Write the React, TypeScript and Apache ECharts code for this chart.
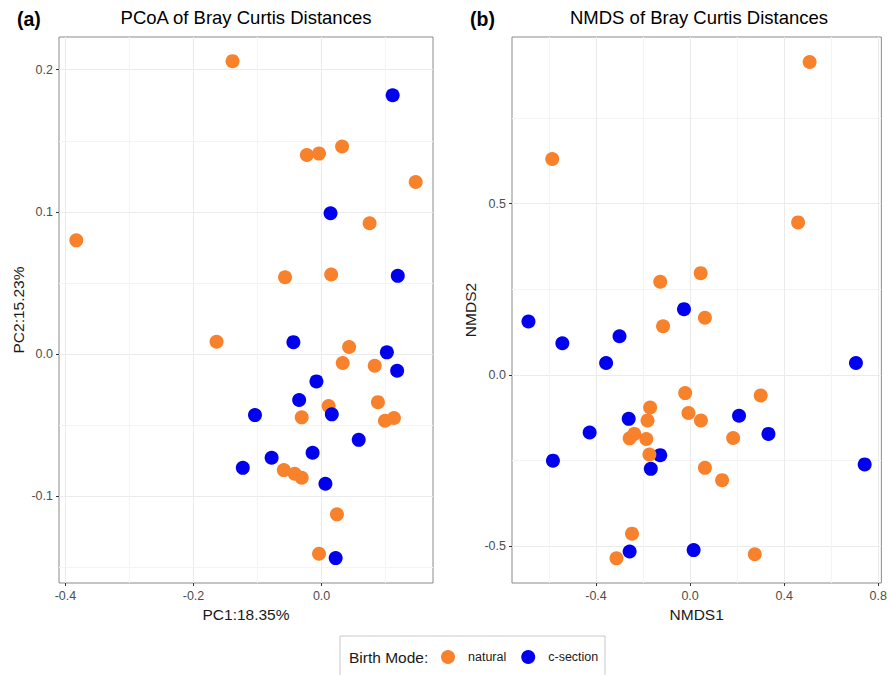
import React, { useEffect, useRef } from "react";
import * as echarts from "echarts";

// PCoA (left panel) — [PC1, PC2]
const pcoaNatural: number[][] = [
  [-0.139, 0.206], [-0.023, 0.14], [-0.004, 0.141], [0.032, 0.146], [0.147, 0.121],
  [0.075, 0.092], [-0.383, 0.08], [-0.057, 0.054], [0.015, 0.056], [-0.164, 0.0087],
  [0.043, 0.005], [0.033, -0.0063], [0.083, -0.0082], [0.011, -0.0366], [0.088, -0.0338],
  [-0.031, -0.0445], [0.099, -0.0469], [0.113, -0.045], [-0.059, -0.0816], [-0.042, -0.0842],
  [-0.031, -0.087], [0.024, -0.1127], [-0.004, -0.1404],
];
const pcoaCsection: number[][] = [
  [0.111, 0.182], [0.014, 0.099], [0.119, 0.055], [-0.044, 0.0084], [0.102, 0.0012],
  [0.118, -0.0117], [-0.008, -0.0192], [-0.035, -0.0323], [-0.104, -0.0429], [0.016, -0.0424],
  [0.058, -0.0603], [-0.014, -0.0694], [-0.078, -0.0729], [-0.123, -0.08], [0.006, -0.0912],
  [0.022, -0.1435],
];

// NMDS (right panel) — [NMDS1, NMDS2]
const nmdsNatural: number[][] = [
  [0.508, 0.913], [-0.586, 0.63], [0.459, 0.445], [-0.127, 0.272], [0.045, 0.297],
  [0.063, 0.167], [-0.115, 0.142], [-0.021, -0.053], [0.3, -0.06], [-0.17, -0.095],
  [-0.007, -0.111], [-0.181, -0.133], [0.046, -0.133], [-0.237, -0.172], [-0.257, -0.185],
  [-0.186, -0.187], [0.183, -0.184], [-0.173, -0.232], [0.063, -0.271], [0.136, -0.307],
  [-0.247, -0.463], [-0.313, -0.535], [0.275, -0.523],
];
const nmdsCsection: number[][] = [
  [-0.687, 0.156], [-0.026, 0.192], [-0.543, 0.0925], [-0.3, 0.113], [-0.357, 0.035],
  [0.705, 0.035], [-0.261, -0.128], [0.208, -0.119], [-0.427, -0.168], [0.333, -0.172],
  [-0.127, -0.234], [-0.583, -0.25], [0.742, -0.261], [-0.167, -0.274], [-0.257, -0.515],
  [0.015, -0.511],
];

const groups = ["natural", "c-section"];
const pcoaXMajor = [-0.4, -0.2, 0.0];
const pcoaXMinor = [-0.3, -0.1, 0.1];
const pcoaYMajor = [-0.1, 0.0, 0.1, 0.2];
const pcoaYMinor = [-0.15, -0.05, 0.05, 0.15];
const nmdsXMajor = [-0.4, 0.0, 0.4, 0.8];
const nmdsXMinor = [-0.6, -0.2, 0.2, 0.6];
const nmdsYMajor = [-0.5, 0.0, 0.5];
const nmdsYMinor = [-0.25, 0.25, 0.75];

const FONT = "Liberation Sans, Arial, Helvetica, sans-serif";
const ORANGE = "#f8812b";
const BLUE = "#0000ee";

export default function App() {
  const ref = useRef<HTMLDivElement>(null);
  useEffect(() => {
    if (!ref.current) return;
    const chart = echarts.init(ref.current, null, { renderer: "svg" });

    const majorAxis = (
      gridIndex: number,
      min: number,
      max: number,
      ticks: number[],
      name: string,
      nameGap: number,
      isY: boolean
    ) => ({
      type: "value",
      gridIndex,
      min,
      max,
      position: isY ? "left" : "bottom",
      name,
      nameLocation: "middle",
      nameGap,
      nameTextStyle: { fontFamily: FONT, fontSize: 15.5, color: "#1a1a1a" },
      axisLine: { show: false, onZero: false },
      axisTick: {
        show: true,
        length: 3,
        customValues: ticks,
        lineStyle: { color: "#333333", width: 1 },
      },
      axisLabel: {
        show: true,
        customValues: ticks,
        margin: 6,
        fontFamily: FONT,
        fontSize: 12.5,
        color: "#4d4d4d",
        formatter: (v: number) => v.toFixed(1),
      },
      splitLine: { show: true, lineStyle: { color: "#ebebeb", width: 1 } },
    });

    const minorAxis = (gridIndex: number, min: number, max: number, ticks: number[], isY: boolean) => ({
      type: "value",
      gridIndex,
      min,
      max,
      position: isY ? "left" : "bottom",
      axisLine: { show: false, onZero: false },
      axisTick: { show: false, customValues: ticks },
      axisLabel: { show: false, customValues: ticks },
      splitLine: { show: true, lineStyle: { color: "#f4f4f4", width: 1 } },
    });

    const scatter = (name: string, data: number[][], axisIndex: number, color: string) => ({
      type: "scatter",
      name,
      data,
      xAxisIndex: axisIndex,
      yAxisIndex: axisIndex,
      symbol: "circle",
      symbolSize: 14,
      itemStyle: { color, opacity: 1 },
      z: 5,
    });

    chart.setOption({
      animation: false,
      backgroundColor: "#ffffff",
      textStyle: { fontFamily: FONT },
      grid: [
        { left: 59, top: 37, width: 374, height: 546, show: true, borderColor: "#8a8a8a", borderWidth: 1, backgroundColor: "transparent" },
        { left: 512, top: 37, width: 374, height: 546, show: true, borderColor: "#8a8a8a", borderWidth: 1, backgroundColor: "transparent" },
      ],
      xAxis: [
        majorAxis(0, -0.41, 0.174, pcoaXMajor, "PC1:18.35%", 21, false),
        minorAxis(0, -0.41, 0.174, pcoaXMinor, false),
        majorAxis(1, -0.757, 0.813, nmdsXMajor, "NMDS1", 21, false),
        minorAxis(1, -0.757, 0.813, nmdsXMinor, false),
      ],
      yAxis: [
        majorAxis(0, -0.161, 0.223, pcoaYMajor, "PC2:15.23%", 33, true),
        minorAxis(0, -0.161, 0.223, pcoaYMinor, true),
        majorAxis(1, -0.607, 0.986, nmdsYMajor, "NMDS2", 33.5, true),
        minorAxis(1, -0.607, 0.986, nmdsYMinor, true),
      ],
      title: [
        { text: "PCoA of Bray Curtis Distances", left: 246, top: 8, padding: 0, textAlign: "center", textStyle: { fontFamily: FONT, fontSize: 18.5, fontWeight: "normal", color: "#000" } },
        { text: "NMDS of Bray Curtis Distances", left: 699, top: 8, padding: 0, textAlign: "center", textStyle: { fontFamily: FONT, fontSize: 18.5, fontWeight: "normal", color: "#000" } },
        { text: "(a)", left: 17, top: 9, padding: 0, textStyle: { fontFamily: FONT, fontSize: 19.5, fontWeight: "bold", color: "#000" } },
        { text: "(b)", left: 470, top: 9, padding: 0, textStyle: { fontFamily: FONT, fontSize: 19.5, fontWeight: "bold", color: "#000" } },
      ],
      legend: {
        data: groups,
        left: 436,
        top: 645,
        icon: "circle",
        itemWidth: 14,
        itemHeight: 14,
        itemGap: 15,
        textStyle: { fontFamily: FONT, fontSize: 12.5, color: "#1a1a1a", padding: [0, 0, 0, 8] },
      },
      graphic: [
        { type: "rect", shape: { x: 340, y: 636, width: 265, height: 60 }, style: { fill: "#fff", stroke: "#c8c8c8", lineWidth: 1 }, z: -1 },
        { type: "text", x: 349, y: 657, style: { text: "Birth Mode:", fontFamily: FONT, fontSize: 15.5, fill: "#1a1a1a", verticalAlign: "middle" }, z: 10 },
      ],
      series: [
        scatter(groups[0], pcoaNatural, 0, ORANGE),
        scatter(groups[1], pcoaCsection, 0, BLUE),
        scatter(groups[1], nmdsCsection, 2, BLUE),
        scatter(groups[0], nmdsNatural, 2, ORANGE),
      ],
    });
    return () => chart.dispose();
  }, []);
  return <div ref={ref} style={{ position: "fixed", left: 0, top: 0, width: 890, height: 675 }} />;
}
